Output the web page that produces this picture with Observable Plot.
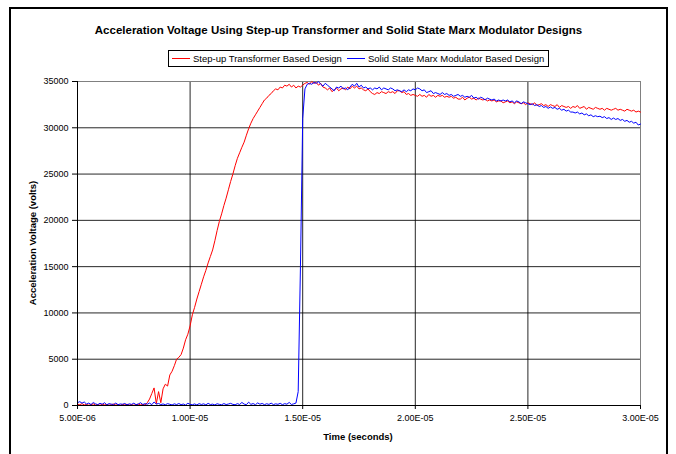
<!DOCTYPE html>
<html><head><meta charset="utf-8">
<script src="https://cdn.jsdelivr.net/npm/d3@7"></script>
<script src="https://cdn.jsdelivr.net/npm/@observablehq/plot@0.6"></script>
<style>
body{margin:0;background:#fff;font-family:Arial,"Liberation Sans",sans-serif;color:#000;}
#wrap{position:relative;width:676px;height:454px;overflow:hidden;}
#frame{position:absolute;left:9px;top:7px;width:659px;height:470px;border:2px solid #000;box-sizing:border-box;}
#chart{position:absolute;left:0;top:0;}
#title{position:absolute;left:10px;width:657px;top:23px;line-height:14px;text-align:center;font-weight:bold;font-size:11.5px;}
#legend{position:absolute;left:168px;top:50px;height:17px;border:1px solid #000;box-sizing:border-box;display:flex;align-items:center;font-size:9.5px;padding:0 4px 0 3px;white-space:nowrap;}
#legend .sw{display:inline-block;width:18px;height:0;border-top:1px solid;margin-right:3px;}
#xlab{position:absolute;left:258px;width:200px;top:431px;text-align:center;font-weight:bold;font-size:9.5px;line-height:12px;}
#ylab{position:absolute;left:33px;top:243px;transform:translate(-50%,-50%) rotate(-90deg);font-weight:bold;font-size:9.5px;white-space:nowrap;line-height:12px;}
</style></head>
<body>
<div id="wrap">
  <div id="chart"></div>
  <div id="frame"></div>
  <div id="title"></div>
  <div id="legend"></div>
  <div id="xlab"></div>
  <div id="ylab"></div>
</div>
<script>
const chartTitle = "Acceleration Voltage Using Step-up Transformer and Solid State Marx Modulator Designs";
const seriesNames = ["Step-up Transformer Based Design", "Solid State Marx Modulator Based Design"];
const seriesColors = ["#ff0000", "#0000ff"];
const xTitle = "Time (seconds)";
const yTitle = "Acceleration Voltage (volts)";
const xTicks = [5e-6, 1e-5, 1.5e-5, 2e-5, 2.5e-5, 3e-5];
const yTicks = [0, 5000, 10000, 15000, 20000, 25000, 30000, 35000];
const timeStart = 5e-6, timeStep = 1e-7;

const stepUpVolts = [
150,80,200,60,120,30,90,180,40,100,20,140,60,110,30,80,160,50,90,20,120,60,140,40,100,30,80,150,60,110,50,
300,700,1300,1900,200,1500,300,1800,2300,2100,
3300,3700,4300,5000,5200,5500,6200,7100,7700,8600,
9800,10600,11500,12300,13100,13900,14600,15400,16100,16800,
17800,18900,19900,20700,21600,22400,23300,24200,25000,25900,
26700,27300,27900,28450,29200,29900,30500,31000,31400,31800,
32200,32600,33000,33200,33500,33700,34000,34200,34100,34400,
34300,34600,34500,34700,34400,34600,34300,34500,34400,34600,
34800,34900,34700,35000,34800,34900,34600,34800,34400,34300,
34100,34300,33900,34100,34300,34000,34200,34300,34100,34400,
34200,34500,34300,34500,34200,34300,34100,34000,34200,33900,
33700,33600,33800,33700,33900,33800,33700,33900,33800,33900,
33700,34000,34000,33800,33900,33600,33700,33500,33600,33500,
33400,33600,33400,33500,33300,33600,33400,33500,33300,33500,
33400,33500,33300,33400,33300,33400,33200,33300,33100,33100,
33300,33000,33200,33300,33100,33200,33000,33200,33100,33000,
33100,32900,33000,32900,33000,32800,32900,32900,32700,32800,
32900,32700,32800,32600,32800,32700,32600,32700,32500,32700,
32600,32500,32700,32400,32500,32600,32400,32500,32300,32500,
32400,32300,32500,32200,32400,32300,32200,32300,32100,32300,
32200,32400,32100,32200,32300,32000,32200,32100,32000,32200,
32100,32000,32100,31900,32100,32000,31900,32000,32100,31900,
32000,31900,31800,32000,31900,31800,31900,31700,31800,31700
];

const marxVolts = [
300,420,250,380,150,260,100,320,180,90,240,130,300,80,200,150,110,260,90,170,130,220,70,180,120,250,90,160,300,110,200,
140,260,90,380,150,220,100,170,80,200,
130,60,180,100,210,90,160,50,240,120,
80,170,60,200,110,180,70,230,100,150,
60,190,120,80,210,100,160,230,120,80,
200,110,330,150,90,360,120,210,80,280,
140,220,90,190,120,250,100,180,130,230,
90,200,140,330,110,180,260,1500,15000,31000,
34200,34700,34800,34700,34900,34800,35000,34700,34500,34800,
34600,34400,34200,34000,34400,34300,34500,34200,34300,34100,
34400,34700,34500,34800,34400,34600,34300,34400,34200,34300,
34100,34300,34200,34400,34100,34300,34200,34100,34300,34200,
34000,34100,34000,33900,34100,33900,34100,34000,34200,34100,
34300,34200,34000,34100,33800,33900,34000,33700,33800,33700,
33600,33800,33600,33700,33500,33600,33400,33500,33600,33400,
33500,33300,33400,33300,33500,33200,33300,33100,33300,33200,
33000,33200,33100,33000,33100,32900,33000,32900,33000,32900,
33000,32800,32900,32700,32900,32800,32600,32800,32700,32600,
32500,32600,32400,32500,32300,32400,32200,32300,32100,32250,
32100,32200,32000,32100,31900,32000,31800,31900,31700,31700,
31600,31700,31500,31600,31400,31500,31300,31400,31200,31300,
31200,31250,31100,31200,31000,31100,30900,31050,30900,31000,
30800,30900,30700,30800,30600,30700,30500,30600,30300,30400
];

const sampleTimes = d3.range(stepUpVolts.length).map(i => timeStart + i * timeStep);
const redData = sampleTimes.map((t, i) => ({t, v: stepUpVolts[i]}));
const blueData = sampleTimes.map((t, i) => ({t, v: marxVolts[i]}));

function fmtExp(d) {
  const [m, e] = d.toExponential(2).split("e");
  const n = Math.abs(+e);
  return m + "E" + (+e < 0 ? "-" : "+") + String(n).padStart(2, "0");
}

const chart = Plot.plot({
  width: 676, height: 454,
  marginLeft: 77, marginRight: 36, marginTop: 81, marginBottom: 49,
  style: {fontFamily: "Arial, 'Liberation Sans', sans-serif", fontSize: "9px", color: "#000", background: "transparent", overflow: "visible"},
  x: {domain: [5e-6, 3e-5]},
  y: {domain: [0, 35000]},
  marks: [
    Plot.ruleY(yTicks.slice(1, -1), {stroke: "#000", strokeOpacity: 0.85}),
    Plot.ruleX(xTicks.slice(1, -1), {stroke: "#000", strokeOpacity: 0.85}),
    Plot.frame({stroke: "#808080"}),
    Plot.lineY(redData, {x: "t", y: "v", stroke: seriesColors[0], strokeWidth: 1}),
    Plot.lineY(blueData, {x: "t", y: "v", stroke: seriesColors[1], strokeWidth: 1}),
    Plot.ruleX([xTicks[0]], {stroke: "#000"}),
    Plot.ruleY([yTicks[0]], {stroke: "#000"}),
    Plot.axisY({ticks: yTicks, tickSize: 5, tickPadding: 4, tickFormat: d => String(d), label: null, stroke: "#000"}),
    Plot.axisX({ticks: xTicks, tickSize: 4, tickPadding: 5, tickFormat: fmtExp, label: null, stroke: "#000"})
  ]
});
document.getElementById("chart").appendChild(chart);

document.getElementById("title").textContent = chartTitle;
document.getElementById("xlab").textContent = xTitle;
document.getElementById("ylab").textContent = yTitle;
const leg = document.getElementById("legend");
seriesNames.forEach((name, i) => {
  const sw = document.createElement("span");
  sw.className = "sw";
  sw.style.borderTopColor = seriesColors[i];
  const tx = document.createElement("span");
  tx.textContent = name;
  if (i > 0) sw.style.marginLeft = "5px";
  leg.appendChild(sw);
  leg.appendChild(tx);
});
</script>
</body></html>
